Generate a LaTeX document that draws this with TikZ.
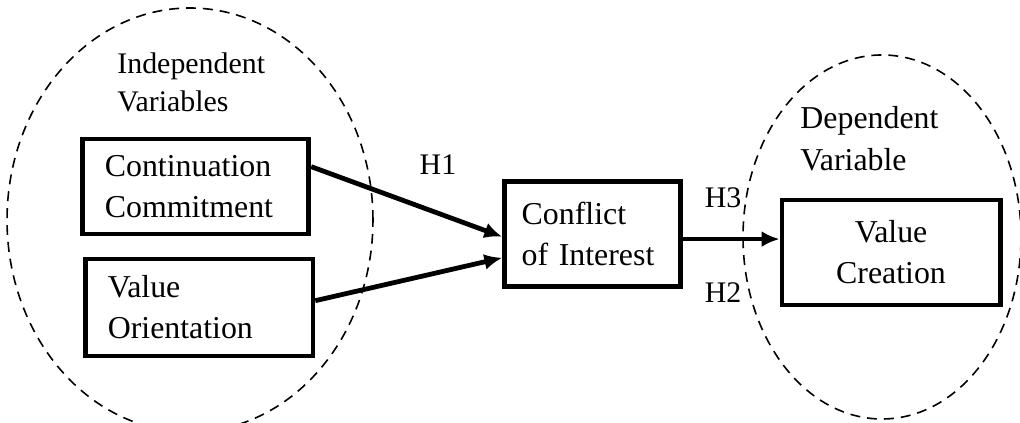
\documentclass[tikz,border=0pt]{standalone}
\usepackage{fontspec}
\setmainfont{Liberation Serif}
\usetikzlibrary{arrows.meta,calc}
\tikzset{
  every node/.style={font=\fontsize{16}{20.6}\selectfont},
  group/.style={draw,dash pattern=on 5pt off 3.5pt,line width=0.8pt},
  box/.style={draw,line width=2.4pt,inner xsep=0.4cm,inner ysep=0pt,align=left},
  label/.style={font=\fontsize{15}{19}\selectfont,align=left,inner sep=0pt},
  arrow/.style={-{Latex[length=9pt,width=8pt]},line width=2.4pt},
}

\begin{document}
\begin{tikzpicture}[x=1cm,y=1cm]
  \useasboundingbox (0,0) rectangle (18,7.447);
  % the two groups
  \draw[group] (3.353,3.565) ellipse [x radius=3.229,y radius=3.741];
  \draw[group] (15.565,3.265) ellipse [x radius=2.453,y radius=3.212];

  \node[label,anchor=west] (indep) at (2.065,5.991) {Independent\\Variables};
  \node[label,anchor=west,font=\fontsize{16}{21}\selectfont] (dep) at (14.118,4.994) {Dependent\\Variable};

  \node[box,text width=3.2cm,minimum height=1.68cm] (cc) at (3.450,4.156) {Continuation\\Commitment};
  \node[box,text width=3.22cm,minimum height=1.71cm] (vo) at (3.512,2.021) {Value\\Orientation};
  \node[box,text width=2.6cm,inner xsep=0.25cm,minimum height=1.84cm] (coi) at (10.456,3.318) {\hspace*{0.05cm}Conflict\\\hspace*{0.05cm}of Interest};
  \node[box,text width=3.05cm,minimum height=1.85cm,align=center] (vc) at (15.724,2.991) {Value\\Creation};

  \draw[arrow] ([yshift=0.35cm]cc.east) -- ([yshift=-0.05cm]coi.west);
  \draw[arrow] ([yshift=0.12cm]vo.east) -- ([yshift=-0.42cm]coi.west);
  \draw[arrow] ([yshift=-0.09cm]coi.east) -- ([yshift=-0.09cm]coi.east -| vc.west);

  \node[label] (h1) at (7.729,4.535) {H1};
  \node[label] (h3) at (12.759,3.953) {H3};
  \node[label] (h2) at (12.759,2.276) {H2};
\end{tikzpicture}
\end{document}
